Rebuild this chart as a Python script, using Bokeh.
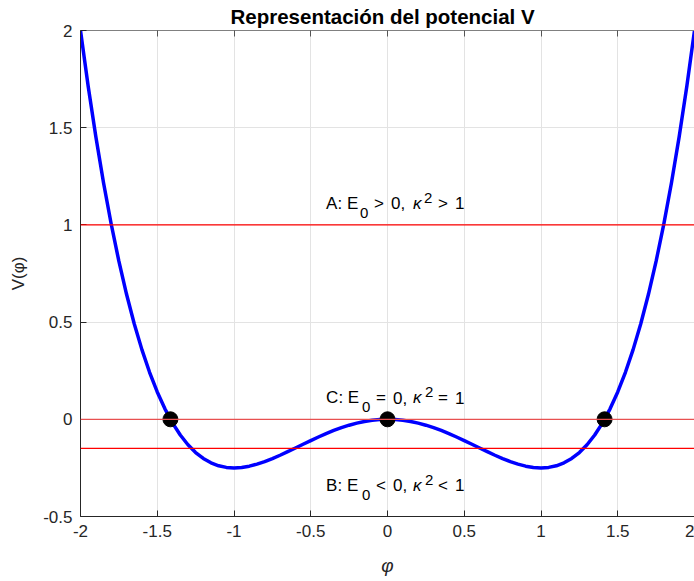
from bokeh.plotting import figure
from bokeh.models import Span, Label, FixedTicker, LinearAxis, ColumnDataSource
from bokeh.embed import file_html
from bokeh.resources import INLINE

# Potential V(phi) sampled on the plotted interval
phi = [-2.0, -1.95, -1.9, -1.85, -1.8, -1.75, -1.7, -1.65, -1.6, -1.55,
       -1.5, -1.45, -1.4, -1.35, -1.3, -1.25, -1.2, -1.15, -1.1, -1.05,
       -1.0, -0.95, -0.9, -0.85, -0.8, -0.75, -0.7, -0.65, -0.6, -0.55,
       -0.5, -0.45, -0.4, -0.35, -0.3, -0.25, -0.2, -0.15, -0.1, -0.05,
       0.0,
       0.05, 0.1, 0.15, 0.2, 0.25, 0.3, 0.35, 0.4, 0.45, 0.5,
       0.55, 0.6, 0.65, 0.7, 0.75, 0.8, 0.85, 0.9, 0.95, 1.0,
       1.05, 1.1, 1.15, 1.2, 1.25, 1.3, 1.35, 1.4, 1.45, 1.5,
       1.55, 1.6, 1.65, 1.7, 1.75, 1.8, 1.85, 1.9, 1.95, 2.0]
V = [2.0, 1.7135, 1.453, 1.2171, 1.0044, 0.8135, 0.643, 0.4918, 0.3584, 0.2418,
     0.1406, 0.0539, -0.0196, -0.0809, -0.131, -0.1709, -0.2016, -0.224, -0.239, -0.2474,
     -0.25, -0.2476, -0.241, -0.2308, -0.2176, -0.2022, -0.185, -0.1666, -0.1476, -0.1284,
     -0.1094, -0.091, -0.0736, -0.0575, -0.043, -0.0303, -0.0196, -0.0111, -0.005, -0.0013,
     0.0,
     -0.0013, -0.005, -0.0111, -0.0196, -0.0303, -0.043, -0.0575, -0.0736, -0.091, -0.1094,
     -0.1284, -0.1476, -0.1666, -0.185, -0.2022, -0.2176, -0.2308, -0.241, -0.2476, -0.25,
     -0.2474, -0.239, -0.224, -0.2016, -0.1709, -0.131, -0.0809, -0.0196, 0.0539, 0.1406,
     0.2418, 0.3584, 0.4918, 0.643, 0.8135, 1.0044, 1.2171, 1.453, 1.7135, 2.0]

# Roots / critical point on V = 0
root_phi = [-1.4142, 0.0, 1.4142]
root_V = [0.0, 0.0, 0.0]

# Energy levels
levels = [1.0, 0.0, -0.15]
level_colors = ["#ff0000", "#e85050", "#ff0000"]

# Case annotations
case_prefix = ["A: E", "C: E", "B: E"]
case_rel = [">", "=", "<"]
case_x = [-0.4, -0.4, -0.4]
case_y = [1.15, 0.15, -0.3]

x_ticks = [-2, -1.5, -1, -0.5, 0, 0.5, 1, 1.5, 2]
x_tick_labels = ["-2", "-1.5", "-1", "-0.5", "0", "0.5", "1", "1.5", "2"]
y_ticks = [-0.5, 0, 0.5, 1, 1.5, 2]
y_tick_labels = ["-0.5", "0", "0.5", "1", "1.5", "2"]

FONT = "Liberation Sans"
AX = "#262626"

p = figure(width=694, height=581, x_range=(-2, 2), y_range=(-0.5, 2),
           output_backend="svg", toolbar_location=None,
           min_border_left=80, min_border_right=0, min_border_top=30,
           min_border_bottom=65)
p.background_fill_color = "white"
p.border_fill_color = "white"
p.outline_line_color = None

p.title.text = "Representación del potencial V"
p.title.align = "left"
p.title.offset = 150
p.title.text_font = FONT
p.title.text_font_size = "20.5px"
p.title.text_font_style = "bold"
p.title.text_color = "black"
p.title.standoff = 5

for ax in (p.xaxis[0], p.yaxis[0]):
    ax.axis_line_color = AX
    ax.major_tick_line_color = AX
    ax.major_tick_in = 6
    ax.major_tick_out = 0
    ax.minor_tick_line_color = None
    ax.major_label_text_font = FONT
    ax.major_label_text_font_size = "17px"
    ax.major_label_text_color = AX
    ax.major_label_standoff = 8
    ax.axis_label_text_font = FONT
    ax.axis_label_text_color = AX

p.xaxis.ticker = FixedTicker(ticks=x_ticks)
p.xaxis.major_label_overrides = dict(zip(x_ticks, x_tick_labels))
p.yaxis.ticker = FixedTicker(ticks=y_ticks)
p.yaxis.major_label_overrides = dict(zip(y_ticks, y_tick_labels))

p.xaxis.axis_label = "φ"
p.xaxis.axis_label_text_font_style = "italic"
p.xaxis.axis_label_text_font_size = "19px"
p.xaxis.axis_label_standoff = 15
p.yaxis.axis_label = "V(φ)"
p.yaxis.axis_label_text_font_style = "normal"
p.yaxis.axis_label_text_font_size = "17px"
p.yaxis.axis_label_standoff = 12

# top edge of the box with inward ticks (no labels)
top = LinearAxis(ticker=FixedTicker(ticks=x_ticks))
top.axis_line_color = "#808080"
top.major_tick_line_color = "#555555"
top.major_tick_in = 6
top.major_tick_out = 0
top.minor_tick_line_color = None
top.major_label_text_color = None
top.major_label_text_font_size = "1px"
top.major_label_standoff = 0
p.add_layout(top, "above")

p.grid.grid_line_color = "#e3e3e3"
p.grid.grid_line_width = 1
p.xgrid.ticker = FixedTicker(ticks=x_ticks)
p.ygrid.ticker = FixedTicker(ticks=y_ticks)

src = ColumnDataSource(dict(phi=phi, V=V))
p.line("phi", "V", source=src, line_color="#0000ff", line_width=3.5,
       line_join="round")
p.scatter(root_phi, root_V, size=15, fill_color="black", line_color="black")

for lv, col in zip(levels, level_colors):
    p.add_layout(Span(location=lv, dimension="width", line_color=col, line_width=1.2))

MAIN = "17px"
SMALL = "15px"
for pre, rel, cx, cy in zip(case_prefix, case_rel, case_x, case_y):
    w = 0 if pre.startswith("A") else 2
    pieces = [
        (pre, 0, -7.5, MAIN, "normal"),
        ("0", 34 + w, -17, SMALL, "normal"),
        (rel, 48 + w, -7.5, MAIN, "normal"),
        ("0,", 65 + w, -7.5, MAIN, "normal"),
        ("κ", 87, -7.5, MAIN, "italic"),
        ("2", 98 + w / 2, -2, SMALL, "normal"),
        (rel, 112, -7.5, MAIN, "normal"),
        ("1", 129, -7.5, MAIN, "normal"),
    ]
    for txt, dx, dy, fs, st in pieces:
        p.add_layout(Label(x=cx, y=cy, text=txt, x_offset=dx, y_offset=dy,
                           text_font=FONT, text_font_size=fs, text_font_style=st,
                           text_color="black", text_baseline="alphabetic",
                           text_align="left"))

open("out.html", "w").write(file_html(p, INLINE))
